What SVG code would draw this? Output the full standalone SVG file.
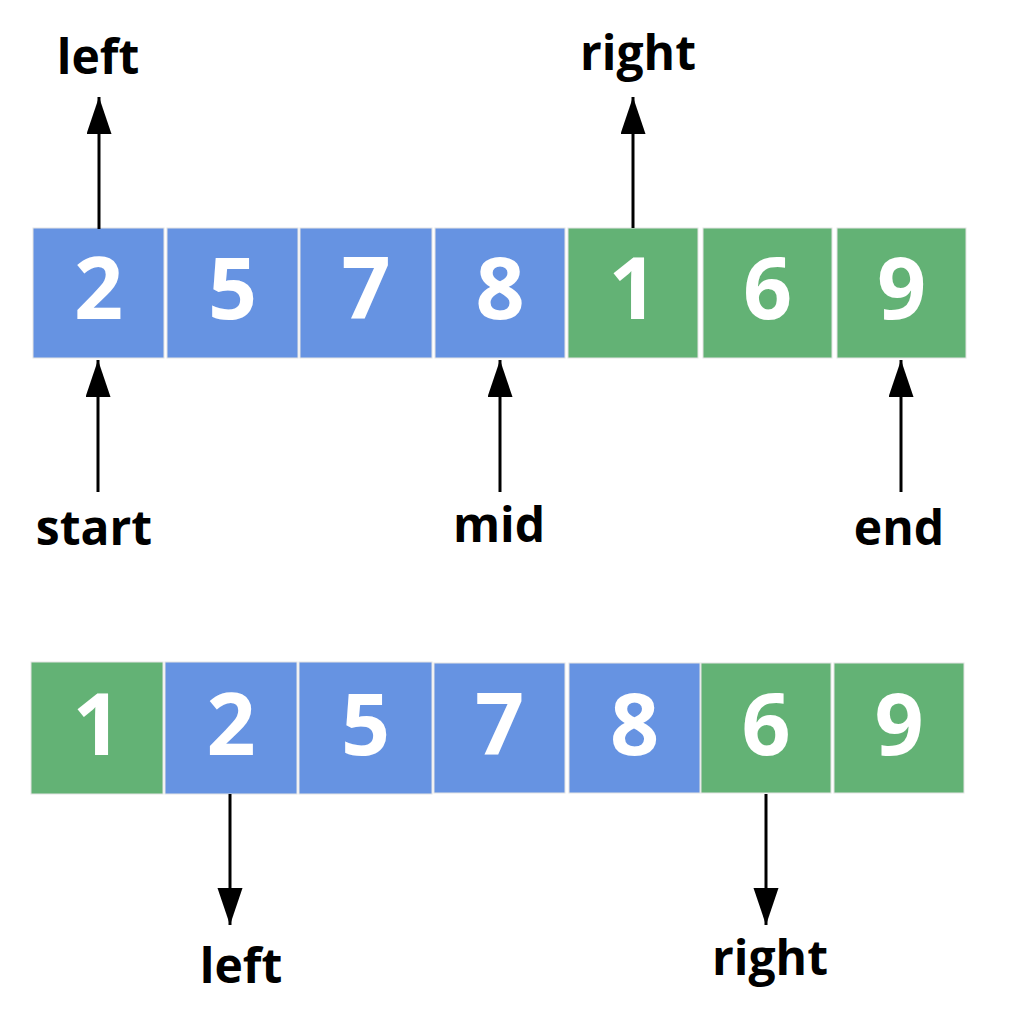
<svg xmlns="http://www.w3.org/2000/svg" width="1013" height="1024" viewBox="0 0 1013 1024">
<style>
.cell{stroke:#e4e4e4;stroke-width:1}
.b{fill:#6693e2}
.g{fill:#63b275}
.num{font-family:"Open Sans","Noto Sans",sans-serif;font-weight:bold;font-size:86px;fill:#ffffff;text-anchor:middle}
.lbl{font-family:"Open Sans","Noto Sans",sans-serif;font-weight:bold;font-size:48px;fill:#000000;text-anchor:middle}
.arr{stroke:#000;stroke-width:3;fill:none;marker-end:url(#ah)}
</style>
<defs>
<marker id="ah" markerUnits="userSpaceOnUse" markerWidth="40" markerHeight="30" refX="37" refY="12.5" orient="auto">
<path d="M0,0 L37,12.5 L0,25 Z" fill="#000"/>
</marker>
</defs>
<rect width="1013" height="1024" fill="#ffffff"/>
<g id="top-row">
<g id="t0"><rect class="cell b" x="33" y="228" width="131" height="130"/><text class="num" x="98.5" y="319">2</text></g>
<g id="t1"><rect class="cell b" x="167" y="228" width="131" height="130"/><text class="num" x="232.5" y="319">5</text></g>
<g id="t2"><rect class="cell b" x="300" y="228" width="132" height="130"/><text class="num" x="366" y="319">7</text></g>
<g id="t3"><rect class="cell b" x="435" y="228" width="130" height="130"/><text class="num" x="500" y="319">8</text></g>
<g id="t4"><rect class="cell g" x="568" y="228" width="130" height="130"/><text class="num" x="633" y="319">1</text></g>
<g id="t5"><rect class="cell g" x="703" y="228" width="129" height="130"/><text class="num" x="767.5" y="319">6</text></g>
<g id="t6"><rect class="cell g" x="837" y="228" width="129" height="130"/><text class="num" x="901.5" y="319">9</text></g>
</g>
<g id="bottom-row">
<g id="b0"><rect class="cell g" x="31" y="662" width="132" height="132"/><text class="num" x="97" y="755">1</text></g>
<g id="b1"><rect class="cell b" x="165" y="662" width="132" height="132"/><text class="num" x="231" y="755">2</text></g>
<g id="b2"><rect class="cell b" x="299" y="662" width="133" height="132"/><text class="num" x="365.5" y="755">5</text></g>
<g id="b3"><rect class="cell b" x="434" y="663" width="131" height="130"/><text class="num" x="499.5" y="755">7</text></g>
<g id="b4"><rect class="cell b" x="569" y="663" width="131" height="130"/><text class="num" x="634.5" y="755">8</text></g>
<g id="b5"><rect class="cell g" x="701" y="663" width="130" height="130"/><text class="num" x="766" y="755">6</text></g>
<g id="b6"><rect class="cell g" x="834" y="663" width="130" height="130"/><text class="num" x="899" y="755">9</text></g>
</g>
<g id="connectors">
<line class="arr" x1="99" y1="229" x2="99" y2="97"/>
<line class="arr" x1="633" y1="228" x2="633" y2="97"/>
<line class="arr" x1="98" y1="492" x2="98" y2="360"/>
<line class="arr" x1="500" y1="492" x2="500" y2="360"/>
<line class="arr" x1="901" y1="492" x2="901" y2="360"/>
<line class="arr" x1="230" y1="794" x2="230" y2="925"/>
<line class="arr" x1="766" y1="794" x2="766" y2="925"/>
</g>
<g id="labels">
<text class="lbl" x="98" y="74">left</text>
<text class="lbl" x="638" y="70">right</text>
<text class="lbl" x="94" y="545">start</text>
<text class="lbl" x="499" y="542">mid</text>
<text class="lbl" x="899" y="545">end</text>
<text class="lbl" x="241" y="983">left</text>
<text class="lbl" x="770" y="975">right</text>
</g>
</svg>
